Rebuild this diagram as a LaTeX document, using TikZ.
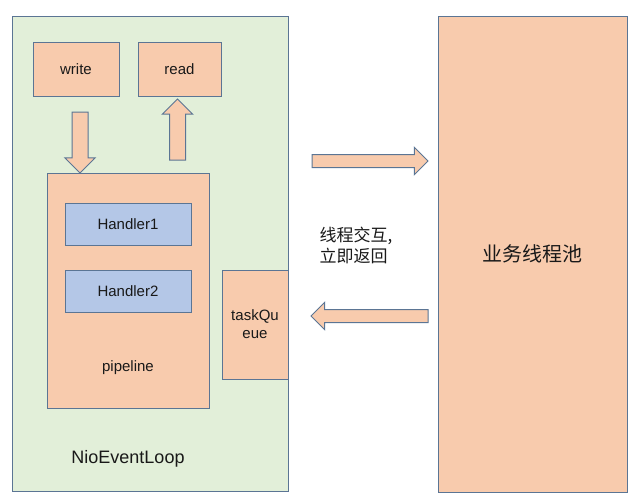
\documentclass[tikz,border=0pt]{standalone}
\usepackage{fontspec}
\setmainfont{Liberation Sans}
\newfontfamily\cjk{Noto Sans CJK SC}
\usepackage{tikz}
\usetikzlibrary{shapes, arrows, positioning}
\definecolor{peach}{HTML}{F8CBAD}
\definecolor{mint}{HTML}{E2EFD9}
\definecolor{lblue}{HTML}{B4C7E7}
\definecolor{frame}{HTML}{5B7594}
\tikzset{
	every node/.style={
		font=\fontsize{15}{18}\selectfont,
		text=black!90
	},
	box/.style={
		shape=rectangle,
		fill=peach,
		draw=frame,
		line width=1pt,
		outer sep=0pt,
		text centered
	},
	handler/.style={
		box,
		fill=lblue,
		minimum width=126pt,
		minimum height=42pt
	},
	fat/.style={
		shape=single arrow,
		anchor=tail,
		fill=peach,
		draw=frame,
		line width=1pt,
		outer sep=0pt,
		single arrow tip angle=90,
		inner sep=0pt
	},
}

\begin{document}
\begin{tikzpicture}[x=1pt,y=-1pt]
		
		\useasboundingbox (0,0) rectangle (640,501);
		
		\node[box, fill=mint, minimum width=276pt, minimum height=475pt] (loop) at (150,253.5) {};
		\node[box, minimum width=189pt, minimum height=476pt] (pool) at (532.5,254) {\cjk\fontsize{20}{24}\selectfont 业务线程池};
		
		\node[box, minimum width=86pt, minimum height=54pt] (write) at (76,69) {write};
		\node[box, minimum width=83pt, minimum height=54pt] (read) [right = 19pt of write] {read};
		
		\node[box, minimum width=162pt, minimum height=235pt] (pipeline) at (128,290.5) {};
		\node[handler] (h1) at (128,224) {Handler1};
		\node[handler] (h2) [below = 25pt of h1] {Handler2};
		\node (pipe) at (128,368) {pipeline};
		
		\node[box, minimum width=66pt, minimum height=109pt, align=center] (queue) at (255,324.5) {taskQu\\eue};
		
		\node[font=\fontsize{18}{22}\selectfont] (loopname) at (128,459) {NioEventLoop};
		
		\node[anchor=west, align=left, font=\cjk\fontsize{17}{21}\selectfont] (note) at (316,245) {线程交互,\\立即返回};
		
		% fat arrows
		\node[fat, rotate=-90, minimum height=61pt, minimum width=29pt, inner ysep=7.5pt] (down) at (80,112) {};
		\node[fat, rotate=90, minimum height=61pt, minimum width=29pt, inner ysep=7.5pt] (up) at (177.5,160) {};
		\node[fat, minimum height=116pt, minimum width=24pt, inner ysep=6pt] (toPool) at (312,161) {};
		\node[fat, rotate=180, minimum height=117pt, minimum width=25pt, inner ysep=6pt] (fromPool) at (428,316) {};
		
\end{tikzpicture}
\end{document}
